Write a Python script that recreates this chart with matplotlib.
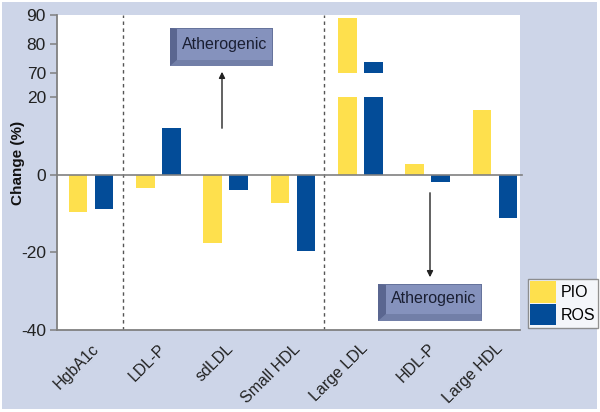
import numpy as np
import matplotlib
matplotlib.use("Agg")
import matplotlib.pyplot as plt
from matplotlib.patches import Rectangle, Polygon, FancyArrowPatch
from matplotlib.scale import FuncScale

plt.rcParams['font.family'] = ['Liberation Sans', 'DejaVu Sans']

categories = ['HgbA1c', 'LDL-P', 'sdLDL', 'Small HDL', 'Large LDL', 'HDL-P', 'Large HDL']
pio = [-9.7, -3.4, -17.5, -7.2, 88.9, 2.9, 16.6]
ros = [-8.9, 12.0, -4.0, -19.7, 73.8, -1.8, -11.1]
series_names = ['PIO', 'ROS']
yticks = [-40, -20, 0, 20, 70, 80, 90]
break_lo, break_hi = 20, 70

YELLOW = '#fee04d'
BLUE = '#034c98'
BG = '#cdd5e8'

GAP = 6.2
K = 0.75


def fwd(v):
    v = np.asarray(v, dtype=float)
    return np.where(v <= break_lo, v,
                    np.where(v >= break_hi, break_lo + GAP + (v - break_hi) * K,
                             break_lo + (v - break_lo) * GAP / (break_hi - break_lo)))


def inv(u):
    u = np.asarray(u, dtype=float)
    return np.where(u <= break_lo, u,
                    np.where(u >= break_lo + GAP, break_hi + (u - break_lo - GAP) / K,
                             break_lo + (u - break_lo) * (break_hi - break_lo) / GAP))


fig = plt.figure(figsize=(6.0, 4.12), dpi=100, facecolor='white')
W, H = 600, 412
fig.patches.append(Rectangle((2 / W, 3 / H), 595 / W, 407 / H, transform=fig.transFigure,
                             facecolor=BG, edgecolor='none', zorder=-10))

ax = fig.add_axes([57 / W, 1 - 330 / H, (520 - 57) / W, (330 - 15) / H])
ax.set_facecolor('white')
ax.set_yscale(FuncScale(ax, (fwd, inv)))
ax.set_ylim(-40, 90)
ax.set_xlim(-0.505, 6.37)

x = np.arange(len(categories))
bw = 0.275
off = 0.193


def draw_bars(xs, vals, color):
    for xi, v in zip(xs, vals):
        if v > break_lo:
            ax.bar(xi, break_lo, width=bw, color=color, zorder=3)
            ax.bar(xi, v - break_hi, bottom=break_hi, width=bw, color=color, zorder=3)
        else:
            ax.bar(xi, v, width=bw, color=color, zorder=3)


draw_bars(x - off, pio, YELLOW)
draw_bars(x + off, ros, BLUE)

ax.axhline(0, color='#808080', lw=1.2, zorder=4, clip_on=False, xmax=1.005)
for xv in (0.475, 3.46):
    ax.axvline(xv, color='#555555', lw=1.0, ls=(0, (2.5, 2.5)), zorder=2)

for s in ('top', 'right'):
    ax.spines[s].set_visible(False)
for s in ('left', 'bottom'):
    ax.spines[s].set_color('#808080')
    ax.spines[s].set_linewidth(1.3)

ax.set_yticks(yticks)
ax.set_yticklabels([str(t) for t in yticks], fontsize=12.5, color='#222222')
ax.tick_params(axis='y', direction='out', length=5, color='#808080', width=1.1, pad=3)
ax.set_xticks(x)
ax.set_xticklabels(categories, rotation=45, ha='right', rotation_mode='anchor',
                   fontsize=11.5, color='#222222')
ax.tick_params(axis='x', length=0, pad=8)
fig.text(18 / W, 1 - 163 / H, 'Change (%)', rotation=90, ha='center', va='center',
         fontsize=11, fontweight='bold', color='#111111')


def bevel_box(x0, y0, x1, y1, xi0, yi1):
    def P(px, py):
        return (px / W, 1 - py / H)
    fig.patches.append(Polygon([P(x0, y0), P(x1, y0), P(x1, y1), P(x0, y1)], closed=True,
                               transform=fig.transFigure, facecolor='#66739c', edgecolor='none', zorder=5))
    fig.patches.append(Polygon([P(x0, y0), P(xi0, y0 + 1), P(xi0, yi1), P(x0, y1)], closed=True,
                               transform=fig.transFigure, facecolor='#5a6690', edgecolor='none', zorder=6))
    fig.patches.append(Polygon([P(x0, y1), P(xi0, yi1), P(x1 - 1, yi1), P(x1, y1)], closed=True,
                               transform=fig.transFigure, facecolor='#727fa8', edgecolor='none', zorder=6))
    fig.patches.append(Polygon([P(xi0, y0 + 1), P(x1 - 1, y0 + 1), P(x1 - 1, yi1), P(xi0, yi1)], closed=True,
                               transform=fig.transFigure, facecolor='#8592bd', edgecolor='none', zorder=6))
    fig.text((xi0 + x1 - 1) / 2 / W, 1 - (y0 + yi1) / 2 / H, 'Atherogenic', ha='center', va='center',
             fontsize=11.5, color='#1a1f33', zorder=7)


bevel_box(170, 28, 273, 66, 177, 60)
bevel_box(378, 284, 482, 321, 386, 314)

fig.add_artist(FancyArrowPatch((222 / W, 1 - 131 / H), (222 / W, 1 - 69 / H),
                               transform=fig.transFigure, arrowstyle='-|>',
                               mutation_scale=9, color='#222222', lw=1.0, zorder=8))
fig.add_artist(FancyArrowPatch((430 / W, 1 - 190 / H), (430 / W, 1 - 280 / H),
                               transform=fig.transFigure, arrowstyle='-|>',
                               mutation_scale=9, color='#222222', lw=1.0, zorder=8))

handles = [Rectangle((0, 0), 1, 1, facecolor=YELLOW), Rectangle((0, 0), 1, 1, facecolor=BLUE)]
leg = fig.legend(handles, series_names, loc='upper left', bbox_to_anchor=(528 / W, 1 - 279 / H),
                 bbox_transform=fig.transFigure, frameon=True, fancybox=False, fontsize=11.5,
                 handlelength=1.6, handleheight=1.7, handletextpad=0.3, borderpad=0.15,
                 labelspacing=0.05, borderaxespad=0)
leg.get_frame().set_edgecolor('#777777')
leg.get_frame().set_linewidth(1.0)

fig.savefig('out.png', dpi=100, facecolor=fig.get_facecolor())
